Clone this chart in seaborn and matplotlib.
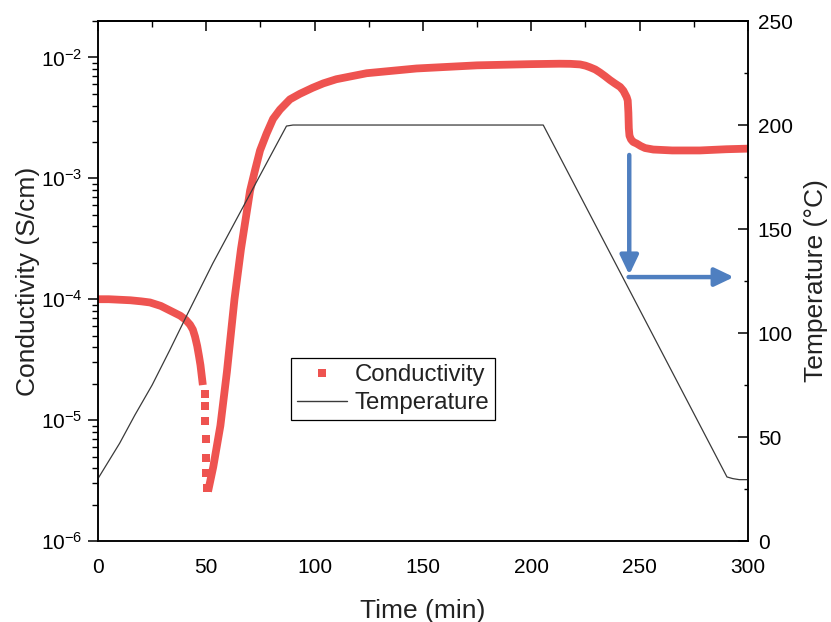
import numpy as np
import pandas as pd
import matplotlib
matplotlib.use("Agg")
import matplotlib.pyplot as plt
import seaborn as sns
from matplotlib.lines import Line2D
from matplotlib.ticker import LogLocator, MultipleLocator, NullFormatter, FixedLocator

# ---------------- data ----------------
cond_time_a = [0, 5, 10, 15, 20, 24, 29, 33, 38, 40.5, 42.5, 43.8, 44.8,
               45.8, 46.6, 47.3, 47.8, 48.4]
cond_a = [1.0e-4, 1.0e-4, 9.9e-5, 9.8e-5, 9.6e-5, 9.4e-5, 8.8e-5, 8.1e-5,
          7.3e-5, 6.75e-5, 6.15e-5, 5.6e-5, 4.9e-5, 4.1e-5, 3.4e-5, 2.85e-5,
          2.4e-5, 1.95e-5]

cond_time_dip = [49.2, 49.35, 49.5, 49.65, 49.8, 50.0, 50.2]
cond_dip = [1.64e-5, 1.31e-5, 9.8e-6, 7.0e-6, 4.9e-6, 3.65e-6, 2.75e-6]

cond_time_b = [50.8, 53.2, 56.5, 59.5, 63.0, 66.0, 70.2, 72.5, 74.8, 77.8,
               80.8, 84.0, 88.6, 93.2, 99, 104, 110, 124, 147, 175, 200,
               213, 218, 222.5, 225, 227, 229.5, 231.7, 234, 236.3, 238.5,
               241, 242.5, 244.0, 244.5, 244.8, 245.0, 245.3, 246.0, 247.0,
               248.6, 250.5, 252.5, 256.3, 265, 277.8, 290, 300]
cond_b = [2.57e-6, 4.1e-6, 9e-6, 2.5e-5, 1.0e-4, 2.6e-4, 7.9e-4, 1.17e-3,
          1.7e-3, 2.34e-3, 3.1e-3, 3.7e-3, 4.5e-3, 5.0e-3, 5.6e-3, 6.1e-3,
          6.6e-3, 7.4e-3, 8.1e-3, 8.6e-3, 8.8e-3, 8.87e-3, 8.85e-3, 8.75e-3,
          8.55e-3, 8.3e-3, 7.95e-3, 7.5e-3, 7.0e-3, 6.5e-3, 6.1e-3, 5.7e-3,
          5.3e-3, 4.7e-3, 4.4e-3, 3.5e-3, 2.6e-3, 2.25e-3, 2.1e-3, 2.0e-3,
          1.94e-3, 1.85e-3, 1.78e-3, 1.73e-3, 1.7e-3, 1.70e-3, 1.74e-3,
          1.76e-3]

temp_time = [0, 5, 10, 17, 25, 33, 41, 53, 87, 90, 205.5, 290.3, 293, 296, 300]
temp_vals = [30, 38.5, 47, 60.5, 75, 91.5, 108.5, 133.5, 199.5, 200, 200,
             30.8, 30, 29.5, 29.5]

x_ticks = [0, 50, 100, 150, 200, 250, 300]
temp_ticks = [0, 50, 100, 150, 200, 250]
cond_ticks = [1e-6, 1e-5, 1e-4, 1e-3, 1e-2]

RED = "#EE5350"
BLUE = "#4F7FC0"
GRAY = "#3A3A3A"

# ---------------- style ----------------
sns.set_theme(style="white")
plt.rcParams['font.family'] = ['Liberation Sans', 'DejaVu Sans']
plt.rcParams['mathtext.fontset'] = 'custom'
plt.rcParams['mathtext.rm'] = 'Liberation Sans'
plt.rcParams['mathtext.it'] = 'Liberation Sans:italic'
plt.rcParams['mathtext.default'] = 'regular'
plt.rcParams['axes.edgecolor'] = 'black'
plt.rcParams['axes.linewidth'] = 1.1
plt.rcParams['xtick.color'] = 'black'
plt.rcParams['ytick.color'] = 'black'
plt.rcParams['text.color'] = '#222222'
plt.rcParams['axes.labelcolor'] = '#222222'

fig = plt.figure(figsize=(8.31, 6.22), dpi=100)
ax = fig.add_axes([0.1179, 0.1302, 0.7822, 0.8360])

# conductivity: continuous segments + sparse dip squares
df_c = pd.DataFrame({
    "time": cond_time_a + cond_time_b,
    "cond": cond_a + cond_b,
    "seg": ["a"] * len(cond_time_a) + ["b"] * len(cond_time_b),
})
sns.lineplot(data=df_c, x="time", y="cond", units="seg", estimator=None,
             sort=False, color=RED, lw=5.6, ax=ax, legend=False,
             solid_joinstyle="round", solid_capstyle="butt")
sns.scatterplot(x=cond_time_dip, y=cond_dip, marker="s", s=26, color=RED,
                linewidth=0, ax=ax, legend=False)

ax.set_yscale("log")
ax.set_xlim(0, 300)
ax.set_ylim(1e-6, 2e-2)
ax.set_xticks(x_ticks)
ax.xaxis.set_minor_locator(MultipleLocator(25))
ax.yaxis.set_major_locator(FixedLocator(cond_ticks))
ax.yaxis.set_minor_locator(LogLocator(base=10, subs=np.arange(2, 10)))
ax.yaxis.set_minor_formatter(NullFormatter())
ax.tick_params(axis="both", which="major", labelsize=15, width=1.1, length=7,
               direction="out")
ax.tick_params(axis="both", which="minor", width=1.0, length=4.3,
               direction="out")
ax.tick_params(axis="y", pad=4)
ax.tick_params(axis="x", pad=5)
ax.set_xlabel("Time (min)", fontsize=19, labelpad=16)
ax.set_ylabel("Conductivity (S/cm)", fontsize=19, labelpad=1)

# top axis: inward ticks, no labels
secax = ax.secondary_xaxis("top")
secax.set_xticks(x_ticks)
secax.xaxis.set_minor_locator(MultipleLocator(25))
secax.tick_params(axis="x", which="major", direction="in", length=7, width=1.1,
                  labeltop=False)
secax.tick_params(axis="x", which="minor", direction="in", length=4.3, width=1.0)
secax.set_xticklabels([])

# temperature on right axis
ax2 = ax.twinx()
sns.lineplot(x=temp_time, y=temp_vals, color=GRAY, lw=0.9, ax=ax2)
ax2.set_ylim(0, 250)
ax2.set_xlim(0, 300)
ax2.set_yticks(temp_ticks)
ax2.yaxis.set_minor_locator(MultipleLocator(25))
ax2.tick_params(axis="y", which="major", direction="in", length=7, width=1.1,
                labelsize=15, pad=7)
ax2.tick_params(axis="y", which="minor", direction="in", length=3.2, width=1.0)
ax2.set_ylabel("Temperature (°C)", fontsize=19, labelpad=8)
for sp in ax2.spines.values():
    sp.set_color("black")
    sp.set_linewidth(1.1)

# blue arrows
astyle = "-|>,head_length=1.15,head_width=0.55"
ax2.annotate("", xy=(245.2, 128.0), xytext=(245.2, 185.6),
             arrowprops=dict(arrowstyle=astyle, mutation_scale=10, lw=3.2,
                             color=BLUE, shrinkA=0, shrinkB=0))
ax2.annotate("", xy=(293.5, 126.9), xytext=(244.9, 126.9),
             arrowprops=dict(arrowstyle=astyle, mutation_scale=10, lw=3.2,
                             color=BLUE, shrinkA=0, shrinkB=0))

# legend
handles = [
    Line2D([], [], marker="s", linestyle="none", color=RED, markersize=5.2,
           markeredgewidth=0),
    Line2D([], [], color=GRAY, lw=1.0),
]
leg = ax2.legend(handles, ["Conductivity", "Temperature"],
                 loc="upper left", bbox_to_anchor=(291 / 831, 1 - 358 / 622),
                 bbox_transform=fig.transFigure, borderaxespad=0,
                 fontsize=17.3, frameon=True, fancybox=False, framealpha=1,
                 edgecolor="black", borderpad=0.25, labelspacing=0.25,
                 handlelength=2.1, handletextpad=0.3)
leg.get_frame().set_linewidth(0.9)

fig.savefig("out.png", dpi=100)
